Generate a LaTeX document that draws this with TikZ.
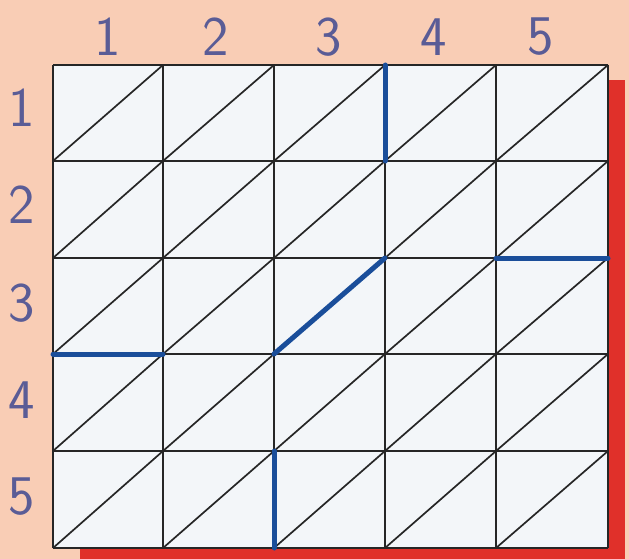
\documentclass[tikz,border=0pt]{standalone}
\usepackage{fontspec}
\definecolor{peach}{HTML}{F9CDB5}
\definecolor{cellfill}{HTML}{F3F6F9}
\definecolor{shadowred}{HTML}{E0302A}
\definecolor{hiblue}{HTML}{1A4E9A}
\definecolor{labelcol}{HTML}{5A5C96}
\tikzset{
  gridline/.style={draw=black!85, line width=2pt},
  hiline/.style={draw=hiblue, line width=5pt, line cap=round},
  numlabel/.style={text=labelcol, font=\sffamily\fontsize{56}{56}\selectfont, inner sep=0pt}
}
\begin{document}
\begin{tikzpicture}[x=1pt,y=-1pt]
\useasboundingbox (0,0) rectangle (629,559);
\fill[peach] (0,0) rectangle (629,559);
% shadow
\fill[shadowred] (80,80) rectangle (625,559);
% grid coordinates
\def\xs{{53,163,274,385,496,608}}
\def\ys{{65,161,258,354,451,548}}
\foreach \i in {0,...,5}{
  \foreach \j in {0,...,5}{
    \pgfmathsetmacro{\xx}{\xs[\i]}
    \pgfmathsetmacro{\yy}{\ys[\j]}
    \coordinate (p\i\j) at (\xx,\yy);
  }
}
\fill[cellfill] (p00) rectangle (p55);
% grid lines
\foreach \i in {0,...,5}{
  \draw[gridline] (p\i0) -- (p\i5);
  \draw[gridline] (p0\i) -- (p5\i);
}
% diagonals
\foreach \i [evaluate=\i as \ni using int(\i+1)] in {0,...,4}{
  \foreach \j [evaluate=\j as \nj using int(\j+1)] in {0,...,4}{
    \draw[gridline, line width=1.7pt] (p\i\nj) -- (p\ni\j);
  }
}
% highlighted segments
\draw[hiline] (p30) -- (p31);
\draw[hiline] (p42) -- (p52);
\draw[hiline] (p23) -- (p32);
\draw[hiline] (p03) -- (p13);
\draw[hiline] (p24) -- (p25);
% labels
\node[numlabel] (c1) at (108,37) {1};
\node[numlabel] (c2) at (216,37) {2};
\node[numlabel] (c3) at (329,37) {3};
\node[numlabel] (c4) at (434,37) {4};
\node[numlabel] (c5) at (541,37) {5};
\node[numlabel] (r1) at (22,108) {1};
\node[numlabel] (r2) at (22,205) {2};
\node[numlabel] (r3) at (22,303) {3};
\node[numlabel] (r4) at (22,400) {4};
\node[numlabel] (r5) at (22,497) {5};
\end{tikzpicture}
\end{document}
